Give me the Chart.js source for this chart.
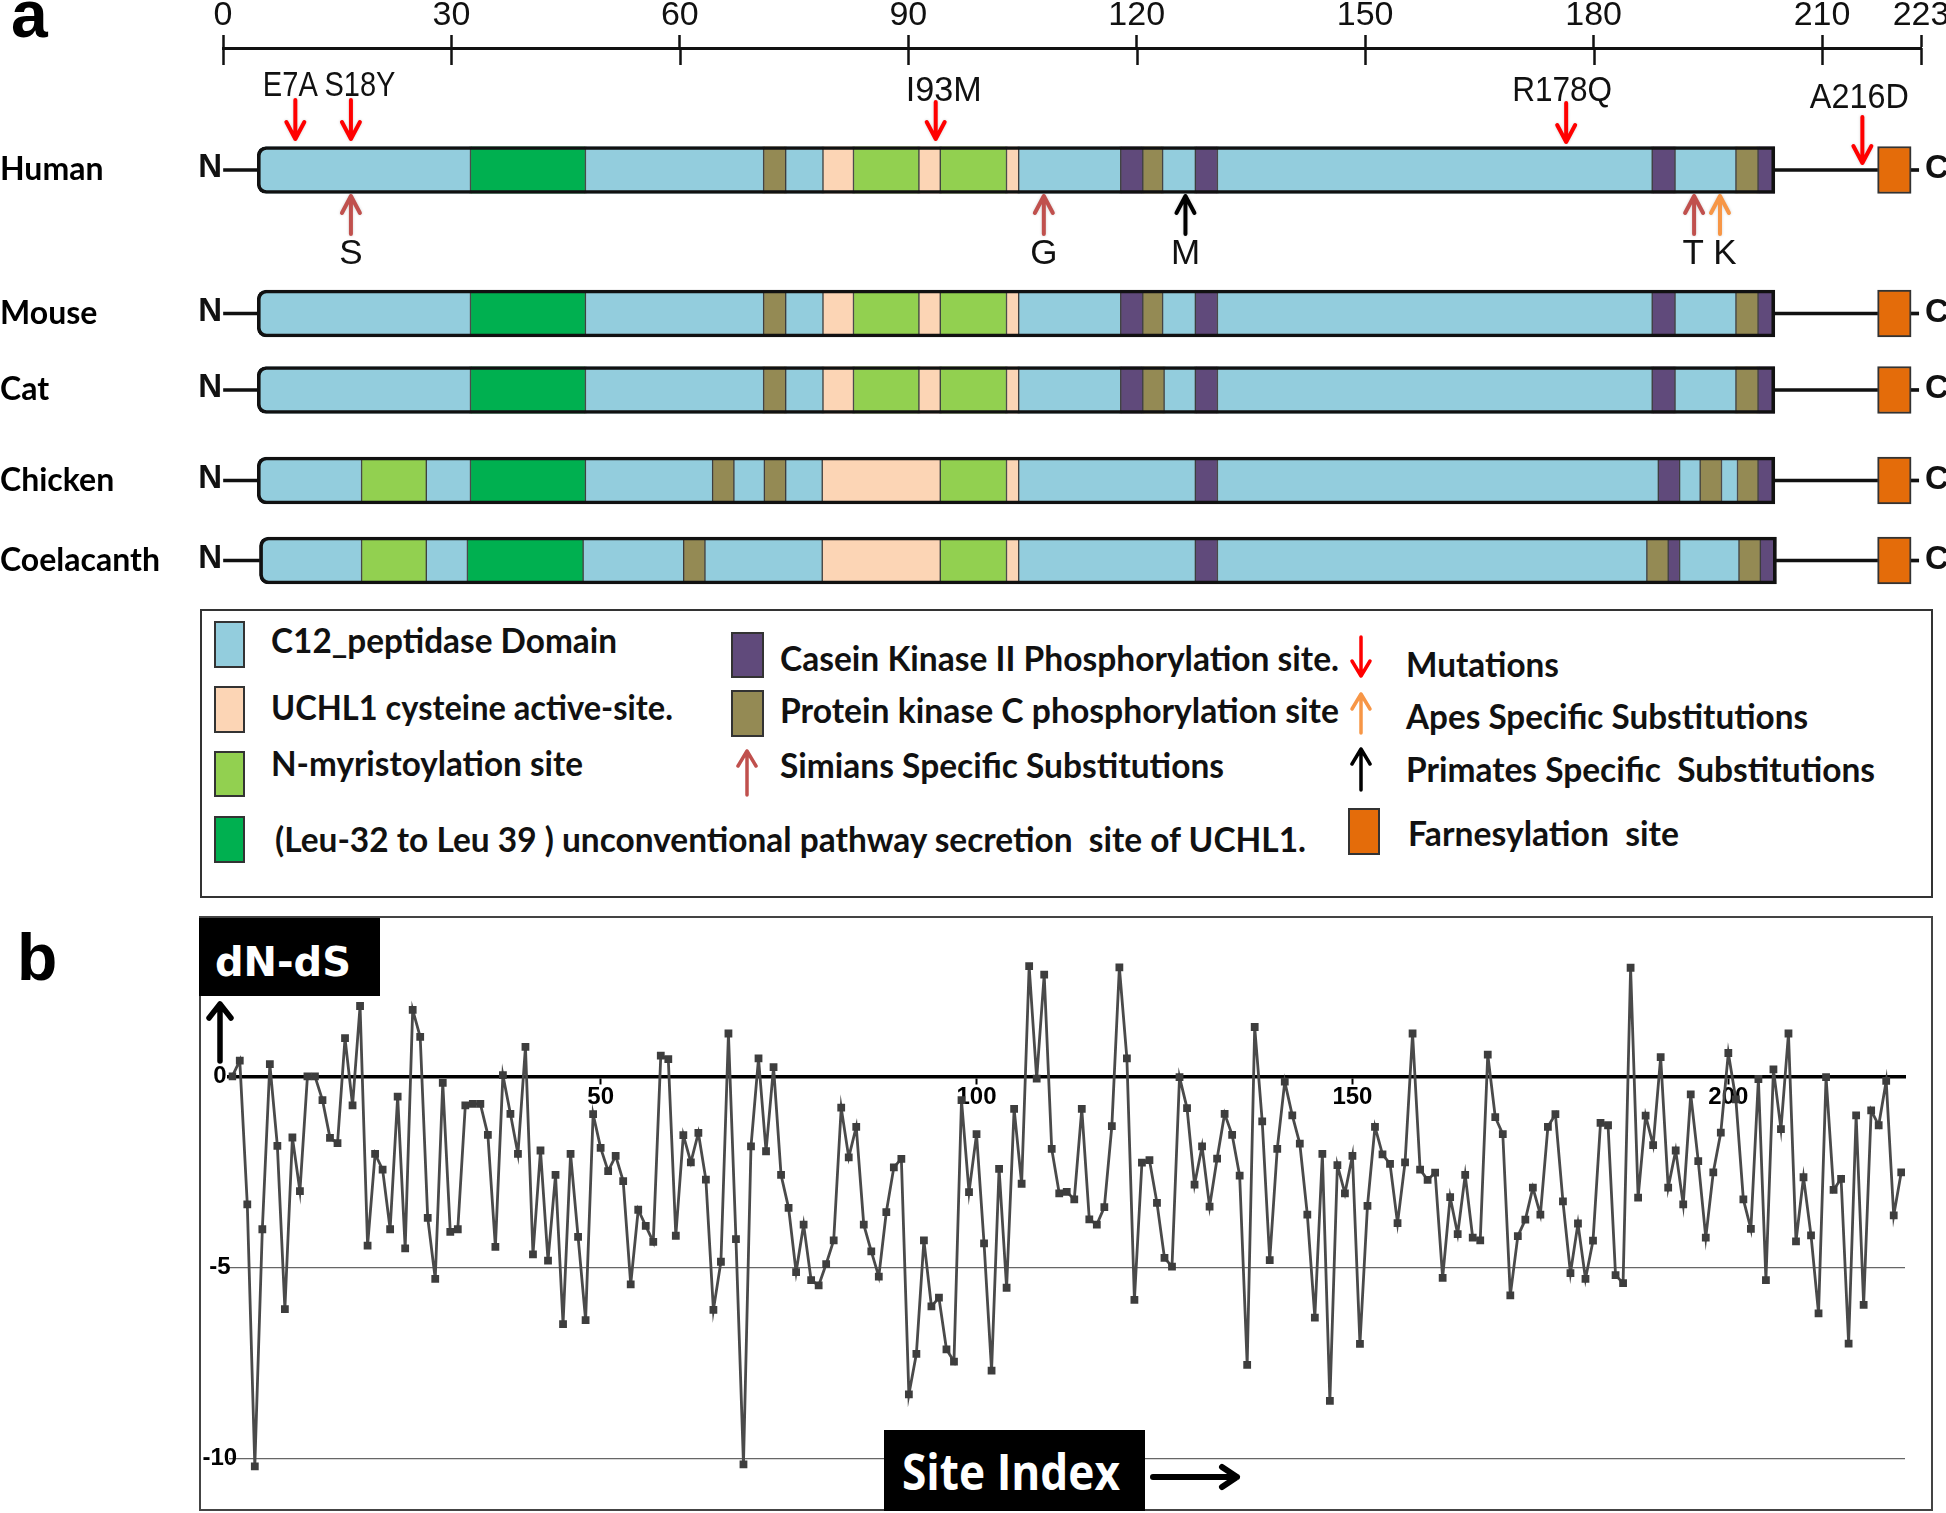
<!DOCTYPE html>
<html><head><meta charset="utf-8">
<script src="https://cdn.jsdelivr.net/npm/chart.js@4.4.1/dist/chart.umd.min.js"></script>
<style>
html,body{margin:0;padding:0;background:#fff;}
body{width:1946px;height:1513px;position:relative;overflow:hidden;}
.abs{position:absolute;}
.lt{position:absolute;font-family:Lato,'Liberation Sans',sans-serif;font-weight:700;font-size:34px;line-height:34px;white-space:pre;color:#111;transform-origin:0 0;}
.sw{position:absolute;box-sizing:border-box;border:2px solid #333;}
.big{position:absolute;font-family:'Liberation Sans',Arial,sans-serif;font-weight:700;font-size:66px;line-height:66px;color:#000;}
canvas{display:block;}
</style></head><body>

<div class="big" style="left:11px;top:-19px">a</div>
<div class="big" style="left:17px;top:924px">b</div>

<canvas id="ca" class="abs" style="left:0;top:0" width="1946" height="600"></canvas>

<!-- legend box -->
<div class="abs" style="left:200px;top:609px;width:1733px;height:289px;box-sizing:border-box;border:2px solid #333"></div>
<div class="sw" style="left:214px;top:621px;width:31px;height:47px;background:#93CDDD"></div>
<div class="sw" style="left:214px;top:686px;width:31px;height:47px;background:#FCD5B5"></div>
<div class="sw" style="left:214px;top:751px;width:31px;height:46px;background:#92D050"></div>
<div class="sw" style="left:214px;top:816px;width:31px;height:47px;background:#00B050"></div>
<div class="sw" style="left:731px;top:632px;width:33px;height:46px;background:#604A7B"></div>
<div class="sw" style="left:731px;top:690px;width:33px;height:47px;background:#948A54"></div>
<div class="sw" style="left:1348px;top:808px;width:32px;height:47px;background:#E46C0A"></div>

<div class="lt" data-w="346" style="left:271px;top:623px">C12_peptidase Domain</div>
<div class="lt" data-w="402" style="left:271px;top:690px">UCHL1 cysteine active-site.</div>
<div class="lt" data-w="312" style="left:271px;top:746px">N-myristoylation site</div>
<div class="lt" data-w="1031" style="left:275px;top:822px">(Leu-32 to Leu 39 ) unconventional pathway secretion  site of UCHL1.</div>
<div class="lt" data-w="559" style="left:780px;top:641px">Casein Kinase II Phosphorylation site.</div>
<div class="lt" data-w="559" style="left:780px;top:693px">Protein kinase C phosphorylation site</div>
<div class="lt" data-w="444" style="left:780px;top:748px">Simians Specific Substitutions</div>
<div class="lt" data-w="153" style="left:1406px;top:647px">Mutations</div>
<div class="lt" data-w="402" style="left:1406px;top:699px">Apes Specific Substitutions</div>
<div class="lt" data-w="469" style="left:1406px;top:752px">Primates Specific  Substitutions</div>
<div class="lt" data-w="271" style="left:1408px;top:816px">Farnesylation  site</div>

<!-- panel b -->
<div class="abs" style="left:199px;top:916px;width:1733px;height:594px"><canvas id="cb" width="1733" height="594"></canvas></div>
<div class="abs" style="left:199px;top:916px;width:1734px;height:595px;box-sizing:border-box;border:2px solid #444"></div>
<div class="abs" style="left:199px;top:918px;width:181px;height:78px;background:#000"></div>
<div class="abs" data-w="136" style="left:215px;top:942px;font-family:'DejaVu Sans',sans-serif;font-weight:700;font-size:41px;line-height:41px;color:#fff;white-space:pre;transform-origin:0 0">dN-dS</div>
<div class="abs" style="left:884px;top:1430px;width:261px;height:81px;background:#000"></div>
<div class="abs" data-w="218" style="left:902px;top:1446px;font-family:'Open Sans',sans-serif;font-weight:700;font-size:50px;line-height:50px;color:#fff;white-space:pre;transform-origin:0 0">Site Index</div>

<svg class="abs" style="left:0;top:0" width="1946" height="1513" fill="none" stroke-linecap="round" stroke-linejoin="round">
  <!-- legend arrows -->
  <path d="M747 795 L747 751 M738 766 L747 751 L756 766" stroke="#C0504D" stroke-width="3.5"/>
  <path d="M1361 637 L1361 676 M1352 661 L1361 676 L1370 661" stroke="#FF0000" stroke-width="3.5"/>
  <path d="M1361 733 L1361 694 M1352 709 L1361 694 L1370 709" stroke="#F79646" stroke-width="3.5"/>
  <path d="M1361 790 L1361 749 M1352 764 L1361 749 L1370 764" stroke="#000" stroke-width="3.5"/>
  <!-- panel b arrows -->
  <path d="M220 1061 L220 1004 M209 1018 L220 1004 L231 1018" stroke="#000" stroke-width="5.5"/>
  <path d="M1153 1477 L1237 1477 M1222 1467 L1237 1477 L1222 1487" stroke="#000" stroke-width="6"/>
</svg>

<script>
// ---------------- DATA ----------------
const SPECIES = ['Human', 'Mouse', 'Cat', 'Chicken', 'Coelacanth'];
const TOP_TICKS = [0, 30, 60, 90, 120, 150, 180, 210, 223];

const humanDomains = [
  [4.5,32.5,'c12'],[32.5,47.6,'sec'],[47.6,71.0,'c12'],[71.0,73.9,'pkc'],[73.9,78.8,'c12'],
  [78.8,82.8,'uch'],[82.8,91.4,'myr'],[91.4,94.2,'uch'],[94.2,102.9,'myr'],[102.9,104.5,'uch'],
  [104.5,117.9,'c12'],[117.9,120.8,'ck2'],[120.8,123.4,'pkc'],[123.4,127.7,'c12'],[127.7,130.6,'ck2'],
  [130.6,187.7,'c12'],[187.7,190.7,'ck2'],[190.7,198.7,'c12'],[198.7,201.6,'pkc'],[201.6,203.8,'ck2']
];
const mouseDomains = [
  [4.5,32.5,'c12'],[32.5,47.6,'sec'],[47.6,71.0,'c12'],[71.0,73.9,'pkc'],[73.9,78.8,'c12'],
  [78.8,82.8,'uch'],[82.8,91.4,'myr'],[91.4,94.2,'uch'],[94.2,102.9,'myr'],[102.9,104.5,'uch'],
  [104.5,117.9,'c12'],[117.9,120.8,'ck2'],[120.8,123.4,'pkc'],[123.4,127.7,'c12'],[127.7,130.6,'ck2'],
  [130.6,187.7,'c12'],[187.7,190.7,'ck2'],[190.7,198.7,'c12'],[198.7,201.6,'pkc'],[201.6,203.8,'ck2']
];
const catDomains = [
  [4.5,32.5,'c12'],[32.5,47.6,'sec'],[47.6,71.0,'c12'],[71.0,73.9,'pkc'],[73.9,78.8,'c12'],
  [78.8,82.8,'uch'],[82.8,91.4,'myr'],[91.4,94.2,'uch'],[94.2,102.9,'myr'],[102.9,104.5,'uch'],
  [104.5,117.9,'c12'],[117.9,120.8,'ck2'],[120.8,123.6,'pkc'],[123.6,127.7,'c12'],[127.7,130.6,'ck2'],
  [130.6,187.7,'c12'],[187.7,190.7,'ck2'],[190.7,198.7,'c12'],[198.7,201.6,'pkc'],[201.6,203.8,'ck2']
];
const chickenDomains = [
  [4.5,18.2,'c12'],[18.2,26.7,'myr'],[26.7,32.5,'c12'],[32.5,47.6,'sec'],[47.6,64.3,'c12'],
  [64.3,67.1,'pkc'],[67.1,71.1,'c12'],[71.1,73.9,'pkc'],[73.9,78.7,'c12'],[78.7,94.2,'uch'],
  [94.2,102.9,'myr'],[102.9,104.5,'uch'],[104.5,127.7,'c12'],[127.7,130.6,'ck2'],[130.6,188.5,'c12'],
  [188.5,191.3,'ck2'],[191.3,194.0,'c12'],[194.0,196.8,'pkc'],[196.8,198.9,'c12'],[198.9,201.6,'pkc'],
  [201.6,203.8,'ck2']
];
const coelacanthDomains = [
  [4.8,18.2,'c12'],[18.2,26.7,'myr'],[26.7,32.1,'c12'],[32.1,47.3,'sec'],[47.3,60.5,'c12'],
  [60.5,63.3,'pkc'],[63.3,78.7,'c12'],[78.7,94.2,'uch'],[94.2,102.9,'myr'],[102.9,104.5,'uch'],
  [104.5,127.7,'c12'],[127.7,130.6,'ck2'],[130.6,187.0,'c12'],[187.0,189.8,'pkc'],[189.8,191.3,'ck2'],
  [191.3,199.1,'c12'],[199.1,201.9,'pkc'],[201.9,204.0,'ck2']
];
const FARNESYL = [217.3, 221.7];
const C_END = 222.7;

const MUTATIONS = [
  {label:'E7A', pos:9.5}, {label:'S18Y', pos:16.8}, {label:'I93M', pos:93.6},
  {label:'R178Q', pos:176.4}, {label:'A216D', pos:215.3}
];
const SUBSTITUTIONS = [
  {label:'S', pos:16.8, kind:'simian'}, {label:'G', pos:107.8, kind:'simian'},
  {label:'M', pos:126.4, kind:'primate'}, {label:'T', pos:193.2, kind:'simian'},
  {label:'K', pos:196.6, kind:'ape'}
];

const X_TICKS_B = [50, 100, 150, 200];
const Y_TICKS_B = [-10, -5, 0];
const DN_DS = [
  0.0, 0.41, -3.35, -10.2, -4.0, 0.32, -1.82, -6.09, -1.6, -3.0,
  0.0, 0.0, -0.62, -1.61, -1.75, 1.0, -0.76, 1.84, -4.43, -2.03,
  -2.44, -4.0, -0.53, -4.5, 1.74, 1.03, -3.7, -5.3, -0.17, -4.07,
  -4.0, -0.76, -0.72, -0.72, -1.53, -4.46, 0.03, -0.98, -2.03, 0.77,
  -4.66, -1.94, -4.82, -2.58, -6.48, -2.03, -4.2, -6.38, -0.99, -1.87,
  -2.48, -2.08, -2.74, -5.44, -3.49, -3.91, -4.33, 0.54, 0.45, -4.17,
  -1.54, -2.25, -1.48, -2.7, -6.11, -4.85, 1.12, -4.26, -10.15, -1.83,
  0.47, -1.96, 0.24, -2.58, -3.44, -5.12, -3.88, -5.33, -5.47, -4.91,
  -4.29, -0.82, -2.12, -1.32, -3.88, -4.58, -5.24, -3.55, -2.38, -2.16,
  -8.32, -7.26, -4.29, -6.02, -5.79, -7.14, -7.46, -0.62, -3.03, -1.51,
  -4.37, -7.7, -2.42, -5.53, -0.85, -2.81, 2.88, -0.06, 2.66, -1.9,
  -3.06, -3.02, -3.22, -0.85, -3.74, -3.88, -3.42, -1.3, 2.85, 0.47,
  -5.85, -2.26, -2.19, -3.31, -4.75, -4.98, -0.02, -0.83, -2.83, -1.83,
  -3.41, -2.15, -0.98, -1.53, -2.6, -7.55, 1.29, -1.18, -4.81, -1.9,
  -0.14, -1.02, -1.76, -3.62, -6.31, -2.03, -8.49, -2.32, -3.06, -2.08,
  -7.0, -3.39, -1.32, -2.04, -2.29, -3.84, -2.25, 1.12, -2.44, -2.71,
  -2.52, -5.27, -3.16, -4.13, -2.58, -4.22, -4.29, 0.57, -1.07, -1.51,
  -5.73, -4.18, -3.75, -2.91, -3.62, -1.32, -0.99, -3.27, -5.15, -3.85,
  -5.3, -4.3, -1.22, -1.28, -5.2, -5.41, 2.84, -3.17, -1.03, -1.8,
  0.5, -2.91, -1.94, -3.35, -0.47, -2.22, -4.22, -2.51, -1.47, 0.61,
  -0.6, -3.22, -3.99, -0.07, -5.33, 0.18, -1.38, 1.12, -4.32, -2.64,
  -4.16, -6.2, -0.02, -2.97, -2.68, -6.99, -1.02, -5.98, -0.89, -1.28,
  -0.12, -3.64, -2.51
];
const SITE_INDEX = DN_DS.map((_, i) => i + 1);

// ---------------- STYLE / LAYOUT ----------------
const COLORS = {c12:'#93CDDD', sec:'#00B050', myr:'#92D050', uch:'#FCD5B5',
                ck2:'#604A7B', pkc:'#948A54', farn:'#E46C0A'};
const ARROW_COLORS = {mutation:'#FF0000', simian:'#C0504D', ape:'#F79646', primate:'#000000'};
const ROW_POS = [1.326, 2.886, 3.717, 4.701, 5.571];
const MUT_LAYOUT = [
  {dx:-5, ly:-84, tail:-70, tip:-31, w:55}, {dx:9, ly:-84, tail:-70, tip:-31, w:71},
  {dx:8, ly:-79, tail:-68, tip:-31, w:76}, {dx:-4, ly:-79, tail:-67, tip:-28, w:100},
  {dx:-3, ly:-72, tail:-53, tip:-7, w:99}
];
const SUB_DX = [0, 0, 0, -1, 5];
const SANS = "'Liberation Sans', Arial, sans-serif";
const NARROW = "'Liberation Sans Narrow', 'Liberation Sans', Arial, sans-serif";

const ALL_DOMAINS = [humanDomains, mouseDomains, catDomains, chickenDomains, coelacanthDomains];

// build bar data
const domainData = [], outlineData = [], linkerData = [];
ALL_DOMAINS.forEach((segs, k) => {
  const y = ROW_POS[k];
  segs.forEach((s, j) => domainData.push({x:[s[0], s[1]], y, t:s[2], first:j === 0}));
  domainData.push({x:[FARNESYL[0], FARNESYL[1]], y, t:'farn'});
  const start = segs[0][0], end = segs[segs.length - 1][1];
  outlineData.push({x:[start, end], y});
  linkerData.push({x:[0, start], y});
  linkerData.push({x:[end, FARNESYL[0]], y});
  linkerData.push({x:[FARNESYL[1], C_END], y});
});

function drawArrow(ctx, x, yTail, yTip, color, lw, hw, hh) {
  const dir = yTip > yTail ? 1 : -1;
  ctx.save();
  ctx.strokeStyle = color; ctx.lineWidth = lw; ctx.lineCap = 'round'; ctx.lineJoin = 'round';
  ctx.shadowColor = 'rgba(0,0,0,0.18)'; ctx.shadowBlur = 3;
  ctx.beginPath();
  ctx.moveTo(x, yTail); ctx.lineTo(x, yTip);
  ctx.moveTo(x - hw, yTip - dir * hh); ctx.lineTo(x, yTip); ctx.lineTo(x + hw, yTip - dir * hh);
  ctx.stroke();
  ctx.restore();
}
function fitText(ctx, txt, cx, cy, w) {
  const m = ctx.measureText(txt).width;
  ctx.save(); ctx.translate(cx, cy); ctx.scale(w / m, 1);
  ctx.textAlign = 'center'; ctx.textBaseline = 'middle'; ctx.fillText(txt, 0, 0);
  ctx.restore();
}

const panelAPlugin = {
  id: 'panelA',
  afterDraw(chart) {
    const ctx = chart.ctx, xs = chart.scales.x, ys = chart.scales.y;
    const top = chart.chartArea.top;
    ctx.save();
    // tick marks crossing the top axis line
    ctx.strokeStyle = '#111'; ctx.lineWidth = 2.5;
    xs.ticks.forEach(t => {
      const px = Math.round(xs.getPixelForValue(t.value)) + 0.5;
      ctx.beginPath(); ctx.moveTo(px, top); ctx.lineTo(px, top + 17); ctx.stroke();
    });
    // N / C terminals
    ctx.fillStyle = '#111'; ctx.font = 'bold 33px ' + SANS; ctx.textBaseline = 'middle';
    ROW_POS.forEach(r => {
      const py = ys.getPixelForValue(r);
      ctx.textAlign = 'right'; ctx.fillText('N', xs.getPixelForValue(0) - 1, py - 2);
      ctx.textAlign = 'left'; ctx.fillText('C', xs.getPixelForValue(223) + 4, py - 1);
    });
    const hy = ys.getPixelForValue(ROW_POS[0]);
    // mutations (down arrows)
    ctx.font = '35px ' + NARROW; ctx.fillStyle = '#111';
    MUTATIONS.forEach((m, i) => {
      const L = MUT_LAYOUT[i], px = xs.getPixelForValue(m.pos);
      drawArrow(ctx, px, hy + L.tail, hy + L.tip, ARROW_COLORS.mutation, 4, 9, 17);
      fitText(ctx, m.label, px + L.dx, hy + L.ly, L.w);
    });
    // substitutions (up arrows)
    SUBSTITUTIONS.forEach((s, i) => {
      const px = xs.getPixelForValue(s.pos);
      drawArrow(ctx, px, hy + 64, hy + 26, ARROW_COLORS[s.kind], 4, 9, 17);
      ctx.fillStyle = '#111'; ctx.font = '35px ' + NARROW;
      ctx.textAlign = 'center'; ctx.textBaseline = 'middle';
      ctx.fillText(s.label, px + SUB_DX[i], hy + 84);
    });
    ctx.restore();
  }
};

new Chart(document.getElementById('ca'), {
  type: 'bar',
  data: {
    datasets: [
      { data: outlineData, order: 1, grouped: false, barThickness: 47,
        backgroundColor: 'rgba(0,0,0,0)', borderColor: '#111', borderWidth: 3,
        borderSkipped: false, borderRadius: {topLeft: 9, bottomLeft: 9} },
      { data: domainData, order: 2, grouped: false, barThickness: 47,
        backgroundColor: c => COLORS[c.raw.t],
        borderColor: c => c.raw.t === 'farn' ? '#333' : 'rgba(40,40,40,0.85)',
        borderWidth: c => c.raw.t === 'farn' ? 2 : {top: 0, bottom: 0, left: 1, right: 1},
        borderSkipped: false,
        borderRadius: c => c.raw.first ? {topLeft: 9, bottomLeft: 9} : 0 },
      { data: linkerData, order: 3, grouped: false, barThickness: 3,
        backgroundColor: '#111', borderWidth: 0 }
    ]
  },
  options: {
    indexAxis: 'y', responsive: false, animation: false, devicePixelRatio: 1,
    layout: {padding: {left: 0, right: 25, top: 0, bottom: 0}},
    plugins: {legend: {display: false}, tooltip: {enabled: false}},
    scales: {
      x: { type: 'linear', position: 'top', min: 0, max: 223,
        afterBuildTicks: s => { s.ticks = TOP_TICKS.map(v => ({value: v})); },
        afterFit: s => { s.height = 48; s.paddingLeft = 0; s.paddingRight = 0; },
        ticks: {autoSkip: false, maxRotation: 0, padding: -1, color: '#111',
                font: {family: NARROW, size: 34}},
        grid: {drawOnChartArea: false, drawTicks: true, tickLength: 13, tickColor: '#111', tickWidth: 2.5},
        border: {display: true, color: '#111', width: 3} },
      y: { type: 'linear', reverse: true, min: 0, max: 6, offset: false,
        afterBuildTicks: s => { s.ticks = ROW_POS.map(v => ({value: v})); },
        afterFit: s => { s.width = 223; s.paddingTop = 0; s.paddingBottom = 0; },
        ticks: {autoSkip: false, crossAlign: 'far', color: '#000',
                callback: (v, i) => SPECIES[i],
                font: {family: "Lato, 'Liberation Sans', sans-serif", size: 32, weight: 'bold'}},
        grid: {display: false}, border: {display: false} }
    }
  },
  plugins: [panelAPlugin]
});

new Chart(document.getElementById('cb'), {
  type: 'line',
  data: {
    datasets: [{
      data: SITE_INDEX.map((s, i) => ({x: s, y: DN_DS[i]})),
      borderColor: '#4a4a4a', borderWidth: 2.8, tension: 0,
      pointStyle: 'rect', pointRadius: 5.5, pointBackgroundColor: '#3d3d3d', pointBorderWidth: 0
    }]
  },
  options: {
    responsive: false, animation: false, devicePixelRatio: 1,
    layout: {padding: {top: 2, right: 27, bottom: 0, left: 0}},
    plugins: {legend: {display: false}, tooltip: {enabled: false}},
    scales: {
      x: { type: 'linear', min: 0.5, max: 223.5, position: {y: 0},
        afterBuildTicks: s => { s.ticks = X_TICKS_B.map(v => ({value: v})); },
        ticks: {autoSkip: false, maxRotation: 0, padding: 1, color: '#000',
                font: {family: SANS, size: 24, weight: 'bold'}},
        grid: {drawOnChartArea: false, drawTicks: true, tickLength: 6, tickColor: '#000', tickWidth: 2},
        border: {display: true, color: '#000', width: 3.5} },
      y: { type: 'linear', min: -11.2, max: 4.05,
        afterBuildTicks: s => { s.ticks = Y_TICKS_B.map(v => ({value: v})); },
        afterFit: s => { s.width = 29.5; s.paddingTop = 0; s.paddingBottom = 0; },
        ticks: {autoSkip: false, mirror: true, crossAlign: 'center', padding: -26, color: '#000',
                font: {family: SANS, size: 24, weight: 'bold'}},
        grid: {color: '#666', lineWidth: 1.3, drawTicks: false},
        border: {display: false} }
    }
  }
});

// fit legend / box texts to the widths they have in the figure
document.querySelectorAll('[data-w]').forEach(el => {
  const w = el.getBoundingClientRect().width;
  if (w > 0) el.style.transform = 'scaleX(' + (parseFloat(el.dataset.w) / w) + ')';
});
</script>
</body></html>
